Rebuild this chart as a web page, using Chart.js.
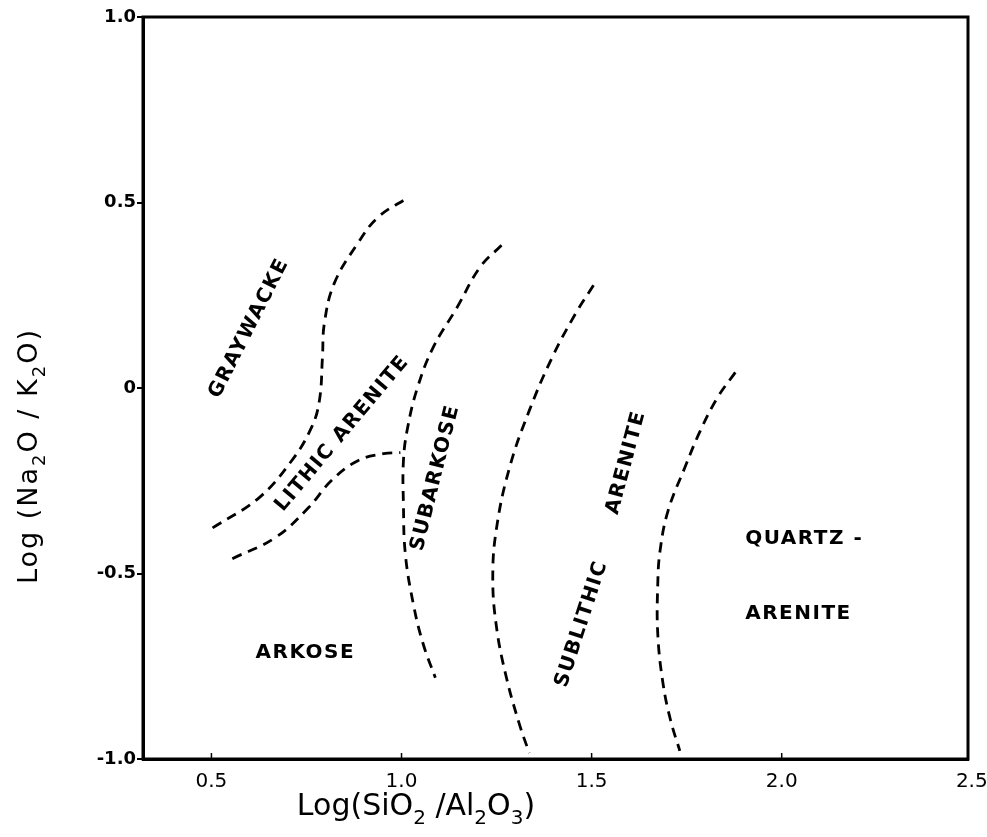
<!DOCTYPE html>
<html>
<head>
<meta charset="utf-8">
<script src="https://cdn.jsdelivr.net/npm/chart.js@4.4.1/dist/chart.umd.min.js"></script>
<style>
  body { margin: 0; background: #fff; }
</style>
</head>
<body>
<canvas id="chart" width="987" height="837"></canvas>
<script>
// Boundary lines of the sandstone classification (log SiO2/Al2O3 vs log Na2O/K2O)
const graywackeX = [0.503, 0.625, 0.711, 0.763, 0.784, 0.792, 0.797, 0.823, 0.885, 0.938, 1.018];
const graywackeY = [-0.377, -0.296, -0.196, -0.107, -0.034, 0.082, 0.174, 0.282, 0.390, 0.460, 0.514];

const arkoseX = [0.555, 0.667, 0.755, 0.815, 0.885, 0.953, 0.997];
const arkoseY = [-0.460, -0.404, -0.323, -0.250, -0.196, -0.177, -0.174];

const subarkoseX = [1.263, 1.206, 1.146, 1.083, 1.042, 1.016, 1.005, 1.005, 1.010, 1.031, 1.057, 1.089];
const subarkoseY = [0.385, 0.325, 0.217, 0.109, 0.001, -0.107, -0.196, -0.312, -0.447, -0.582, -0.690, -0.781];

const sublithicX = [1.505, 1.458, 1.396, 1.336, 1.284, 1.250, 1.240, 1.250, 1.276, 1.310, 1.336];
const sublithicY = [0.277, 0.201, 0.082, -0.061, -0.215, -0.377, -0.511, -0.646, -0.781, -0.906, -0.984];

const quartzX = [1.878, 1.831, 1.786, 1.745, 1.701, 1.680, 1.674, 1.674, 1.688, 1.708, 1.732];
const quartzY = [0.042, -0.026, -0.115, -0.215, -0.331, -0.439, -0.528, -0.663, -0.798, -0.897, -0.978];

const xTickValues = [0.5, 1.0, 1.5, 2.0, 2.5];
const yTickValues = [-1.0, -0.5, 0, 0.5, 1.0];

// field names, anchored in data units
const fieldNames = ["GRAYWACKE", "LITHIC ARENITE", "SUBARKOSE", "SUBLITHIC", "ARENITE", "QUARTZ -", "ARENITE", "ARKOSE"];
const fieldX = [0.599, 0.844, 1.089, 1.474, 1.591, 1.904, 1.904, 0.747];
const fieldY = [0.161, -0.123, -0.242, -0.636, -0.201, -0.406, -0.609, -0.714];
const fieldAngle = [-63, -50, -76, -72, -75, 0, 0, 0];
const fieldAlign = ["center", "center", "center", "center", "center", "left", "left", "center"];

function toPoints(xs, ys) {
    return xs.map((x, i) => ({ x: x, y: ys[i] }));
}

function boundary(xs, ys) {
    return {
        data: toPoints(xs, ys),
        showLine: true,
        borderColor: "#000",
        borderWidth: 2.8,
        borderDash: [10, 7],
        pointRadius: 0,
        tension: 0.4,
        fill: false,
    };
}

// draw text with subscripts, centred on x
function drawRich(ctx, parts, x, y, size, family) {
    const subSize = Math.round(size * 0.68);
    let total = 0;
    parts.forEach((p) => {
        ctx.font = (p.sub ? subSize : size) + "px " + family;
        p.w = ctx.measureText(p.t).width;
        total += p.w;
    });
    let cx = x - total / 2;
    parts.forEach((p) => {
        ctx.font = (p.sub ? subSize : size) + "px " + family;
        ctx.fillText(p.t, cx, p.sub ? y + size * 0.3 : y);
        cx += p.w;
    });
}

const decorPlugin = {
    id: "decor",
    afterDraw(chart) {
        const { ctx, chartArea: a, scales } = chart;
        const xs = scales.x, ys = scales.y;
        ctx.save();
        ctx.strokeStyle = "#000";
        ctx.fillStyle = "#000";

        // frame
        ctx.lineWidth = 3;
        ctx.strokeRect(a.left, a.top, a.right - a.left, a.bottom - a.top);

        // small inward ticks on the x axis
        ctx.lineWidth = 1.5;
        xTickValues.forEach((v) => {
            const px = xs.getPixelForValue(v);
            if (px < a.right - 3) {
                ctx.beginPath();
                ctx.moveTo(px, a.bottom);
                ctx.lineTo(px, a.bottom - 6);
                ctx.stroke();
            }
        });

        // field labels
        ctx.font = "bold 20px 'DejaVu Sans'";
        ctx.letterSpacing = "1.5px";
        ctx.textBaseline = "middle";
        fieldNames.forEach((name, i) => {
            const px = xs.getPixelForValue(fieldX[i]);
            const py = ys.getPixelForValue(fieldY[i]);
            ctx.save();
            ctx.translate(px, py);
            ctx.rotate(fieldAngle[i] * Math.PI / 180);
            ctx.textAlign = fieldAlign[i];
            ctx.fillText(name, 0, 0);
            ctx.restore();
        });

        // axis titles
        ctx.textAlign = "left";
        ctx.textBaseline = "alphabetic";
        ctx.letterSpacing = "0px";
        drawRich(ctx, [
            { t: "Log(SiO" }, { t: "2", sub: true }, { t: " /Al" }, { t: "2", sub: true },
            { t: "O" }, { t: "3", sub: true }, { t: ")" }
        ], 416, 815, 30, "'DejaVu Sans'");

        ctx.save();
        ctx.translate(37, 456);
        ctx.rotate(-Math.PI / 2);
        ctx.letterSpacing = "2px";
        drawRich(ctx, [
            { t: "Log (Na" }, { t: "2", sub: true }, { t: "O / K" }, { t: "2", sub: true }, { t: "O)" }
        ], 0, 0, 27, "'DejaVu Sans'");
        ctx.restore();

        ctx.restore();
    },
};

Chart.defaults.color = "#000";
Chart.defaults.font.family = "'DejaVu Sans'";

new Chart(document.getElementById("chart"), {
    type: "scatter",
    data: {
        datasets: [
            boundary(graywackeX, graywackeY),
            boundary(arkoseX, arkoseY),
            boundary(subarkoseX, subarkoseY),
            boundary(sublithicX, sublithicY),
            boundary(quartzX, quartzY),
        ],
    },
    options: {
        responsive: false,
        animation: false,
        layout: { padding: { top: 17, right: 19, left: 0, bottom: 0 } },
        plugins: {
            legend: { display: false },
            tooltip: { enabled: false },
        },
        scales: {
            x: {
                type: "linear",
                min: 0.32,
                max: 2.49,
                afterBuildTicks: (scale) => {
                    scale.ticks = xTickValues.map((v) => ({ value: v }));
                },
                afterFit: (scale) => {
                    scale.height = 78;
                    scale.paddingLeft = 0;
                    scale.paddingRight = 0;
                },
                grid: { display: false },
                border: { display: true, color: "#000", width: 3 },
                ticks: {
                    padding: 3,
                    font: { size: 20 },
                    callback: (v) => Number(v).toFixed(1),
                },
            },
            y: {
                type: "linear",
                min: -1,
                max: 1,
                afterBuildTicks: (scale) => {
                    scale.ticks = yTickValues.map((v) => ({ value: v }));
                },
                afterFit: (scale) => {
                    scale.width = 143;
                    scale.paddingTop = 0;
                    scale.paddingBottom = 0;
                },
                grid: {
                    drawOnChartArea: false,
                    drawTicks: true,
                    tickLength: 6,
                    color: "#000",
                    lineWidth: 2,
                },
                border: { display: true, color: "#000", width: 3 },
                ticks: {
                    padding: 1,
                    font: { size: 18, weight: "bold" },
                    callback: (v) => (v === 0 ? "0" : Number(v).toFixed(1)),
                },
            },
        },
    },
    plugins: [decorPlugin],
});
</script>
</body>
</html>
